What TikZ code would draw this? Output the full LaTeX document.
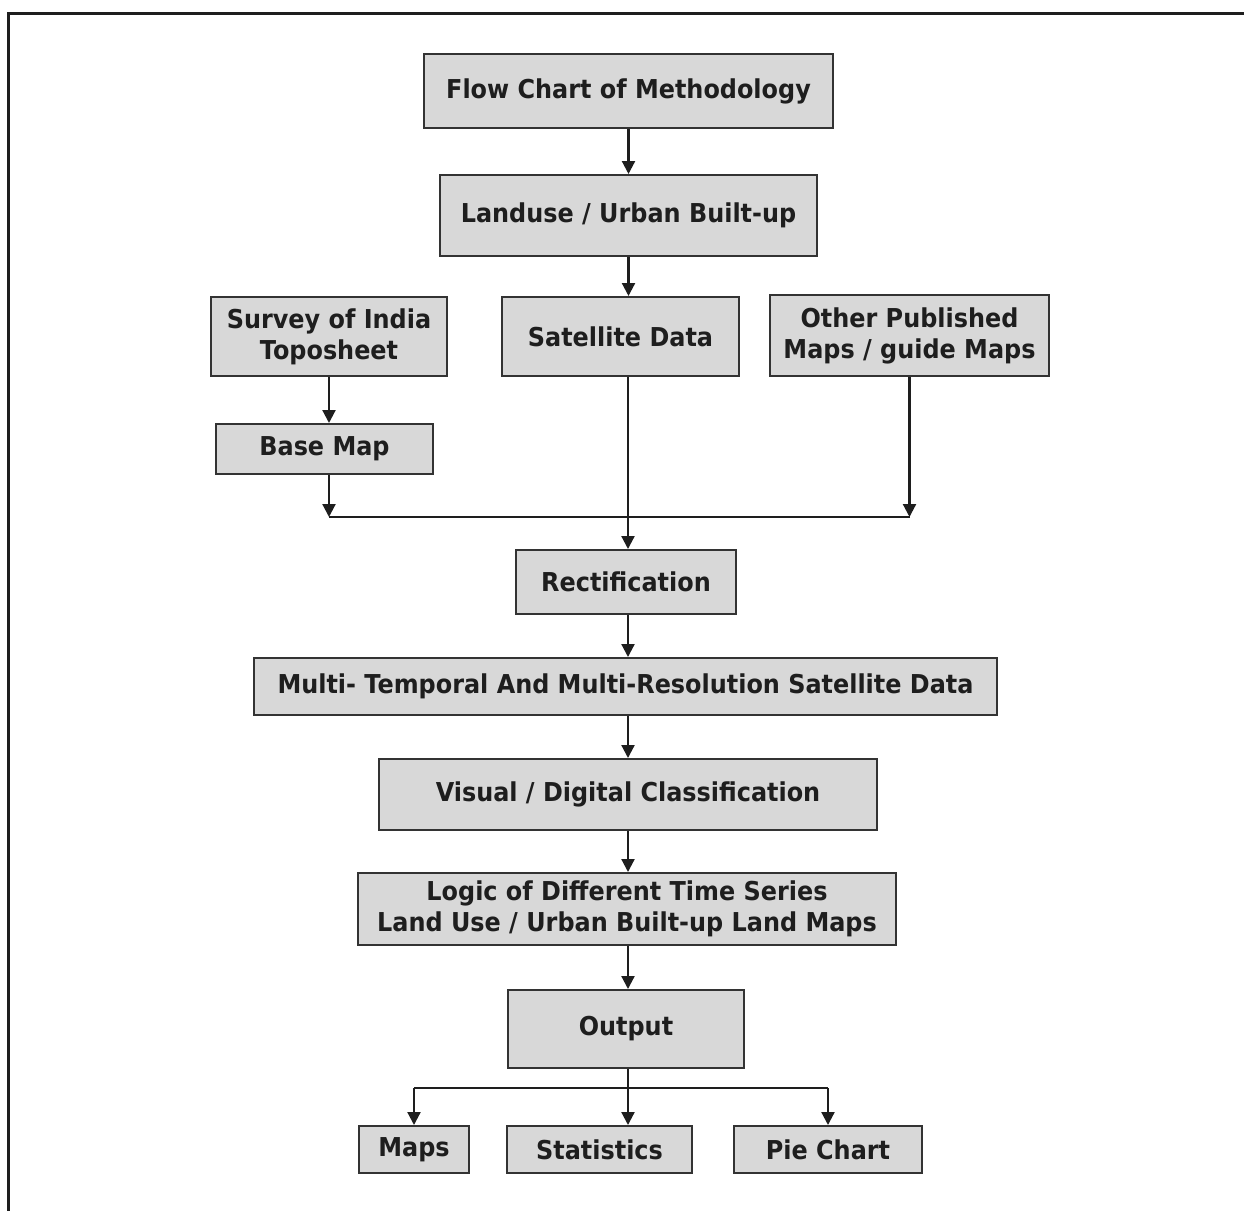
\documentclass[tikz,border=0pt]{standalone}
\usepackage{fontspec}
\setmainfont{DejaVu Sans}[BoldFont={DejaVu Sans Bold}, BoldFeatures={FakeStretch=0.92}]
\usetikzlibrary{arrows.meta}
\definecolor{boxfill}{HTML}{D8D8D8}
\definecolor{boxline}{HTML}{333333}
\definecolor{inkc}{HTML}{1E1E1E}
\begin{document}
\begin{tikzpicture}[x=1pt,y=-1pt,
  box/.style={draw=boxline, fill=boxfill, line width=2pt, inner sep=0pt, align=center,
    text=inkc, font=\fontsize{26}{31}\selectfont\bfseries},
  arr/.style={draw=inkc, line width=2.2pt, -{Triangle[length=13pt,width=13pt]}},
  ln/.style={draw=inkc, line width=2.2pt}]
\useasboundingbox (0,0) rectangle (1244,1210);
\draw[line width=3pt, color=inkc] (8,1212) -- (8,13) -- (1244,13);

\node[box, minimum width=409pt, minimum height=74pt] (b1) at (628.5,91) {Flow Chart of Methodology};
\node[box, minimum width=377pt, minimum height=81pt] (b2) at (628.5,215.5) {Landuse / Urban Built-up};
\node[box, minimum width=236pt, minimum height=79pt] (survey) at (329,336.5) {Survey of India\\Toposheet};
\node[box, minimum width=237pt, minimum height=79pt] (sat) at (620.5,336.5) {Satellite Data};
\node[box, minimum width=279pt, minimum height=81pt] (other) at (909.5,335.5) {Other Published\\Maps / guide Maps};
\node[box, minimum width=217pt, minimum height=50pt] (base) at (324.5,449) {Base Map};
\node[box, minimum width=220pt, minimum height=64pt] (rect) at (626,582) {Rectification};
\node[box, minimum width=743pt, minimum height=57pt] (multi) at (625.5,686.5) {Multi- Temporal And Multi-Resolution Satellite Data};
\node[box, minimum width=498pt, minimum height=71pt] (visual) at (628,794.5) {Visual / Digital Classification};
\node[box, minimum width=538pt, minimum height=72pt] (logic) at (627,909) {Logic of Different Time Series\\Land Use / Urban Built-up Land Maps};
\node[box, minimum width=236pt, minimum height=78pt] (output) at (626,1029) {Output};
\node[box, minimum width=110pt, minimum height=47pt] (maps) at (414,1149.5) {Maps};
\node[box, minimum width=185pt, minimum height=47pt] (stats) at (599.5,1149.5) {Statistics};
\node[box, minimum width=188pt, minimum height=47pt] (pie) at (828,1149.5) {Pie Chart};

\coordinate (j) at (628,517);
\coordinate (k) at (628,1088);

\draw[arr] (b1.south) -- (b2.north);
\draw[arr] (b2.south) -- (b2.south |- sat.north);
\draw[arr] (survey.south) -- (survey.south |- base.north);
\draw[arr] (base.south -| survey.south) -- (survey.south |- j);
\draw[ln] (survey.south |- j) -- (other.south |- j);
\draw[arr] (other.south) -- (other.south |- j);
\draw[arr] (sat.south -| j) -- (j |- rect.north);
\draw[arr] (rect.south -| j) -- (j |- multi.north);
\draw[arr] (multi.south -| j) -- (j |- visual.north);
\draw[arr] (visual.south -| j) -- (j |- logic.north);
\draw[arr] (logic.south -| j) -- (j |- output.north);
\draw[ln] (output.south -| k) -- (k);
\draw[ln] (maps.north |- k) -- (pie.north |- k);
\draw[arr] (maps.north |- k) -- (maps.north);
\draw[arr] (k) -- (k |- stats.north);
\draw[arr] (pie.north |- k) -- (pie.north);
\end{tikzpicture}
\end{document}
